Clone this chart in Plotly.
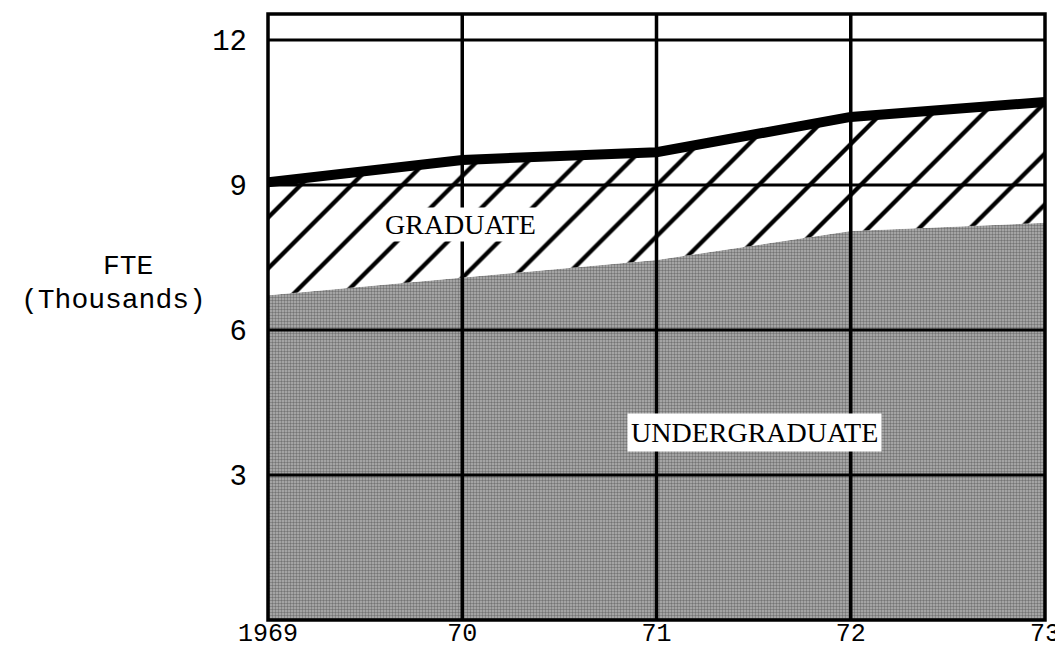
import plotly.graph_objects as go

years = [1969, 1970, 1971, 1972, 1973]
x_tick_labels = ["1969", "70", "71", "72", "73"]
undergraduate = [6.72, 7.08, 7.45, 8.05, 8.22]
total = [9.06, 9.52, 9.68, 10.41, 10.72]
y_ticks = [3, 6, 9, 12]

fig = go.Figure()
fig.add_trace(go.Scatter(
    x=years, y=undergraduate, mode="lines", fill="tozeroy",
    line=dict(width=0, color="#888"),
    fillcolor="#9c9c9c",
    fillpattern=dict(shape=".", fgcolor="#333333", bgcolor="#b4b4b4", size=3, solidity=0.5),
    showlegend=False, hoverinfo="skip"))
fig.add_trace(go.Scatter(
    x=years, y=total, mode="lines", fill="tonexty",
    line=dict(width=10, color="black"),
    fillcolor="white",
    fillpattern=dict(shape="/", fgcolor="black", fgopacity=1, bgcolor="white",
                     size=36, solidity=0.12),
    showlegend=False, hoverinfo="skip"))

shapes = []
for v in y_ticks:
    shapes.append(dict(type="line", xref="x", yref="y", x0=years[0], x1=years[-1], y0=v, y1=v,
                       line=dict(color="black", width=3), layer="above"))
for v in years[1:-1]:
    shapes.append(dict(type="line", xref="x", yref="paper", x0=v, x1=v, y0=0, y1=1,
                       line=dict(color="black", width=3.5), layer="above"))
shapes.append(dict(type="rect", xref="paper", yref="paper", x0=0, x1=1, y0=0, y1=1,
                   line=dict(color="black", width=3.5), layer="above"))

mono = "Liberation Mono, Courier New, monospace"
serif = "Liberation Serif, serif"
fig.update_layout(
    width=1055, height=644,
    margin=dict(l=260, r=18, t=6, b=32),
    paper_bgcolor="white", plot_bgcolor="white",
    shapes=shapes,
    xaxis=dict(range=[years[0], years[-1]], tickvals=years, ticktext=x_tick_labels,
               showgrid=False, zeroline=False, showline=False, ticks="",
               ticklabelstandoff=-5, automargin=False, ticklabeloverflow="allow",
               tickfont=dict(family=mono, size=25, color="black")),
    yaxis=dict(range=[0, 12.54], tickvals=y_ticks, showgrid=False, zeroline=False,
               showline=False, ticks="", ticklabelstandoff=20, automargin=False,
               ticklabeloverflow="allow",
               tickfont=dict(family=mono, size=29, color="black")),
    annotations=[
        dict(text="FTE", xref="paper", yref="paper", x=-0.1802, y=0.584,
             showarrow=False, font=dict(family=mono, size=28, color="black"),
             xanchor="center", yanchor="middle"),
        dict(text="(Thousands)", xref="paper", yref="paper", x=-0.1982, y=0.528,
             showarrow=False, font=dict(family=mono, size=28, color="black"),
             xanchor="center", yanchor="middle"),
        dict(text="GRADUATE", xref="x", yref="y", x=1969.99, y=8.19, showarrow=False,
             bgcolor="white", borderpad=1, font=dict(family=serif, size=28, color="black")),
        dict(text="UNDERGRADUATE", xref="x", yref="y", x=1971.507, y=3.87, showarrow=False,
             bgcolor="white", borderpad=3, font=dict(family=serif, size=28, color="black")),
    ],
)
fig.write_html("out.html")
